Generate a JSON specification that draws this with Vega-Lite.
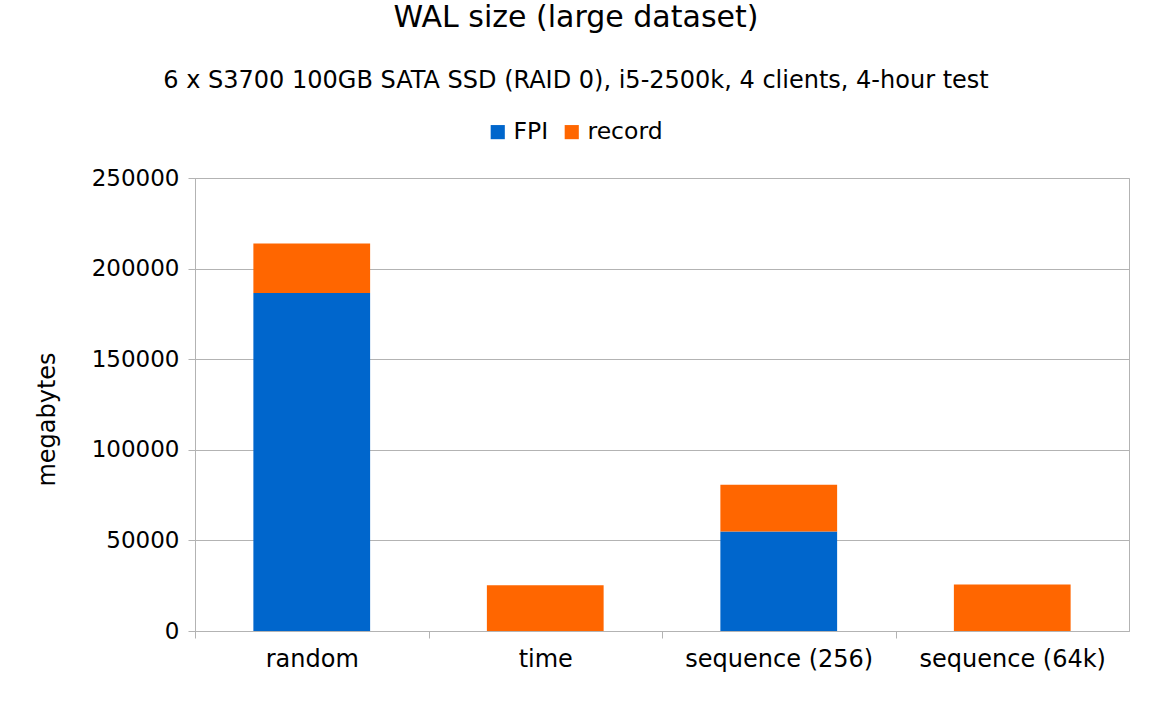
{
  "$schema": "https://vega.github.io/schema/vega-lite/v6.json",
  "width": 934,
  "height": 453,
  "autosize": "none",
  "padding": {"left": 195, "top": 178, "right": 23, "bottom": 89},
  "background": "white",
  "title": {
    "text": "WAL size (large dataset)",
    "subtitle": "6 x S3700 100GB SATA SSD (RAID 0), i5-2500k, 4 clients, 4-hour test",
    "anchor": "middle",
    "frame": "group",
    "dx": -86,
    "font": "DejaVu Sans",
    "fontSize": 30,
    "fontWeight": "normal",
    "color": "black",
    "subtitleFont": "DejaVu Sans",
    "subtitleFontSize": 24,
    "subtitleColor": "black",
    "subtitlePadding": 36,
    "offset": 27
  },
  "data": {
    "values": [
      {"category": "random", "type": "FPI", "value": 186600},
      {"category": "random", "type": "record", "value": 27200},
      {"category": "time", "type": "FPI", "value": 0},
      {"category": "time", "type": "record", "value": 25300},
      {"category": "sequence (256)", "type": "FPI", "value": 54900},
      {"category": "sequence (256)", "type": "record", "value": 25800},
      {"category": "sequence (64k)", "type": "FPI", "value": 0},
      {"category": "sequence (64k)", "type": "record", "value": 25600}
    ]
  },
  "mark": {"type": "bar"},
  "encoding": {
    "x": {
      "field": "category",
      "type": "nominal",
      "sort": ["random", "time", "sequence (256)", "sequence (64k)"],
      "scale": {"paddingInner": 0.5, "paddingOuter": 0.25},
      "axis": {
        "title": null,
        "labelAngle": 0,
        "labelLimit": 0,
        "labelFont": "DejaVu Sans",
        "labelFontSize": 24,
        "labelColor": "black",
        "labelPadding": 9,
        "tickSize": 7,
        "tickColor": "#b3b3b3",
        "domainColor": "#b3b3b3",
        "tickOffset": -116.75,
        "labelOffset": 116.75,
        "grid": false
      }
    },
    "y": {
      "field": "value",
      "type": "quantitative",
      "stack": "zero",
      "scale": {"domain": [0, 250000]},
      "axis": {
        "title": "megabytes",
        "titleFont": "DejaVu Sans",
        "titleFontSize": 24,
        "titleFontWeight": "normal",
        "titleColor": "black",
        "titleAngle": -90,
        "titleX": -148,
        "titleY": 241,
        "titleAlign": "center",
        "titleBaseline": "middle",
        "values": [0, 50000, 100000, 150000, 200000, 250000],
        "format": "d",
        "labelFont": "DejaVu Sans",
        "labelFontSize": 23,
        "labelColor": "black",
        "labelPadding": 9,
        "tickSize": 7,
        "tickColor": "#b3b3b3",
        "domainColor": "#b3b3b3",
        "gridColor": "#b3b3b3",
        "grid": true
      }
    },
    "color": {
      "field": "type",
      "type": "nominal",
      "scale": {"domain": ["FPI", "record"], "range": ["#0066cc", "#ff6600"]},
      "legend": {
        "title": null,
        "orient": "none",
        "direction": "horizontal",
        "legendX": 291,
        "legendY": -58,
        "symbolType": "square",
        "symbolSize": 200,
        "symbolStrokeWidth": 0,
        "symbolOpacity": 1,
        "labelFont": "DejaVu Sans",
        "labelFontSize": 23.5,
        "labelColor": "black",
        "labelOffset": 4,
        "columnPadding": 11
      }
    },
    "order": {"field": "type", "sort": "ascending"}
  },
  "config": {
    "view": {"stroke": "#b3b3b3"},
    "axis": {"gridWidth": 1}
  }
}
